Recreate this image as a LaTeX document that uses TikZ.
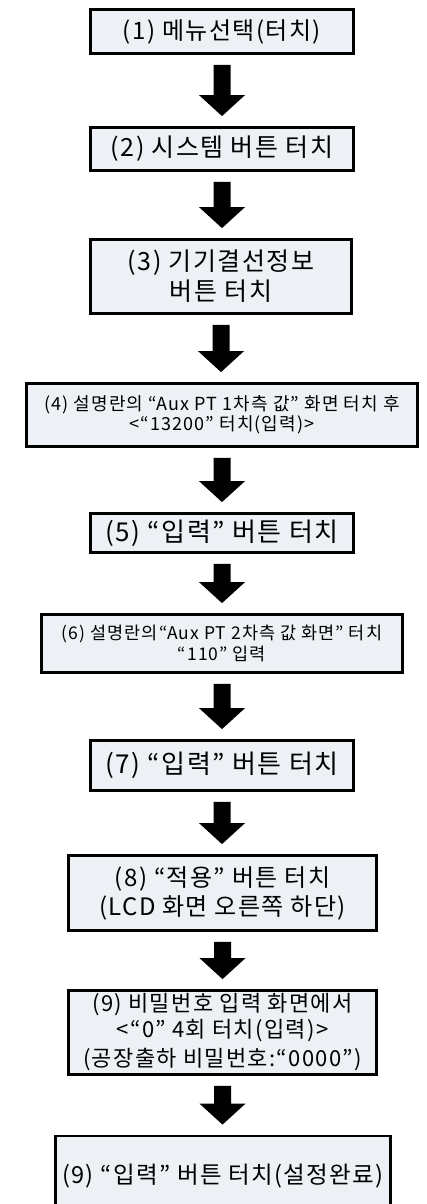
\documentclass[tikz,border=0pt]{standalone}
\usepackage{fontspec}
\setmainfont[LetterSpace=6]{Noto Sans CJK KR}
\usetikzlibrary{calc}

\definecolor{boxfill}{RGB}{237,240,245}

\tikzset{
	stepbox/.style={rectangle, draw=black, line width=2.8pt, fill=boxfill, inner sep=0pt, align=center},
}

\begin{document}
\begin{tikzpicture}[x=1pt, y=-1pt]
		\useasboundingbox (0, 0) rectangle (427, 1204);
		\clip (0, 0) rectangle (427, 1204);

		\node[stepbox, minimum width=263pt, minimum height=44pt, font=\fontsize{24}{30}\selectfont] (b1) at (222, 31.5) {(1) 메뉴선택(터치)};
		\node[stepbox, minimum width=263pt, minimum height=43pt, font=\fontsize{25}{30}\selectfont] (b2) at (222, 149) {(2) 시스템 버튼 터치};
		\node[stepbox, minimum width=261pt, minimum height=74pt, font=\fontsize{25}{30}\selectfont] (b3) at (221, 276.5) {(3) 기기결선정보\\버튼 터치};
		\node[stepbox, minimum width=391pt, minimum height=63pt, font=\fontsize{18}{20}\selectfont] (b4) at (222, 415) {(4) 설명란의 “Aux PT 1차측 값” 화면 터치 후\\<“13200” 터치(입력)>};
		\node[stepbox, minimum width=263pt, minimum height=39pt, font=\fontsize{26}{32}\selectfont] (b5) at (222, 533) {(5) “입력” 버튼 터치};
		\node[stepbox, minimum width=361pt, minimum height=58pt, font=\fontsize{17.5}{21}\selectfont] (b6) at (222, 643.5) {(6) 설명란의“Aux PT 2차측 값 화면” 터치\\“110” 입력};
		\node[stepbox, minimum width=263pt, minimum height=50pt, font=\fontsize{26}{32}\selectfont] (b7) at (222, 765.5) {(7) “입력” 버튼 터치};
		\node[stepbox, minimum width=308pt, minimum height=75pt, font=\fontsize{24}{29}\selectfont] (b8) at (222.5, 893) {(8) “적용” 버튼 터치\\(LCD 화면 오른쪽 하단)};
		\node[stepbox, minimum width=308pt, minimum height=84pt, font=\fontsize{22}{26}\selectfont] (b9) at (222.5, 1032.5) {(9) 비밀번호 입력 화면에서\\<“0” 4회 터치(입력)>\\[3pt](공장출하 비밀번호:“0000”)};
		\node[stepbox, minimum width=335pt, minimum height=80pt, font=\fontsize{23.5}{29}\selectfont] (b10) at (223, 1176) {(9) “입력” 버튼 터치(설정완료)};

		\foreach \a/\b in {b1/b2, b2/b3, b3/b4, b4/b5, b5/b6, b6/b7, b7/b8, b8/b9, b9/b10} {
			\fill let \p1 = ($(\a.south)+(0, 10)$), \p2 = ($(\b.north)+(0, -10)$) in
				(\x1-8.5pt, \y1) -- (\x1+8.5pt, \y1) -- (\x1+8.5pt, \y2+21pt) -- (\x1+23pt, \y2+21pt)
				-- (\x1, \y2) -- (\x1-23pt, \y2+21pt) -- (\x1-8.5pt, \y2+21pt) -- cycle;
		}
	\end{tikzpicture}
\end{document}
